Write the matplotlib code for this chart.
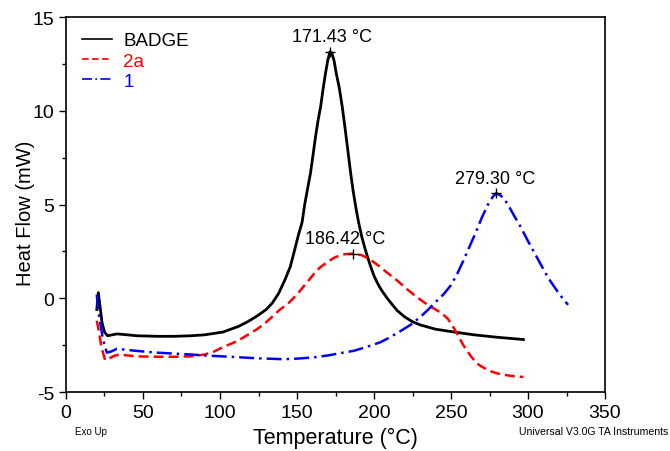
import matplotlib
matplotlib.use("Agg")
import matplotlib.pyplot as plt
from matplotlib.ticker import MultipleLocator

plt.rcParams['font.family'] = ['Liberation Sans', 'DejaVu Sans']
plt.rcParams['axes.unicode_minus'] = False

# DSC curves (temperature in C, heat flow in mW)
t_badge = [20, 21, 23.4, 25, 27, 30, 33, 40, 46, 60, 70, 81, 90, 102, 112, 118, 124, 130, 134,
           138, 142, 145.7, 149, 151, 153.3, 155, 157, 158.8, 160.5, 162, 163.7, 165.3, 167,
           168.5, 170, 171.4, 172.5, 174, 175.5, 177.5, 179.4, 181, 183, 184.8, 186.5, 188.3,
           190, 192, 194, 196, 197.8, 200, 202, 204, 206, 208.6, 211, 215, 220, 225, 230, 240,
           252, 265, 280, 297]
hf_badge = [-0.6, 0.3, -1.3, -1.8, -2.0, -1.95, -1.9, -1.95, -2.0, -2.03, -2.03, -2.0, -1.95,
            -1.8, -1.5, -1.25, -0.95, -0.6, -0.25, 0.25, 0.95, 1.7, 2.75, 3.4, 4.05, 5.0, 5.9,
            6.7, 7.7, 8.6, 9.5, 10.2, 11.2, 12.0, 12.7, 13.15, 13.1, 12.7, 12.0, 11.2, 10.2, 9.2,
            7.9, 6.7, 5.7, 4.8, 4.05, 3.3, 2.7, 2.15, 1.7, 1.2, 0.85, 0.55, 0.3, 0.0, -0.25,
            -0.65, -1.0, -1.25, -1.42, -1.65, -1.8, -1.95, -2.08, -2.2]

t_2a = [20, 21, 23, 25.4, 28, 32, 35, 40, 46, 61, 70, 81, 90, 96, 102, 108, 113, 118, 124, 129,
        133, 139, 144, 150, 155, 161, 165, 170, 175, 181, 186.4, 192, 197, 202, 208, 215, 222,
        228, 234, 239, 244, 248, 252, 255, 258, 263, 266, 269, 275, 282, 290, 297]
hf_2a = [-1.2, -1.6, -2.6, -3.3, -3.2, -3.05, -3.0, -3.05, -3.1, -3.12, -3.12, -3.1, -3.0, -2.85,
         -2.6, -2.4, -2.2, -1.95, -1.65, -1.35, -1.05, -0.6, -0.3, 0.2, 0.7, 1.3, 1.65, 1.95,
         2.2, 2.35, 2.38, 2.3, 2.1, 1.8, 1.4, 0.95, 0.45, 0.05, -0.3, -0.55, -0.8, -1.1, -1.6,
         -2.05, -2.5, -3.1, -3.4, -3.6, -3.88, -4.05, -4.15, -4.2]

t_1 = [20, 21, 24, 26.5, 29, 33, 36, 45, 59, 70, 81, 90, 102, 113, 124, 141, 150, 161, 170, 180,
       187, 195, 204, 210, 217, 224, 230, 235, 240, 245, 250, 254, 258, 262, 266, 270, 274, 277,
       279.3, 282, 285, 288, 291, 295, 300, 304, 309, 313, 318, 322, 326]
hf_1 = [0.2, -0.7, -2.2, -2.9, -2.85, -2.7, -2.72, -2.8, -2.9, -2.95, -3.0, -3.05, -3.1, -3.15,
        -3.2, -3.25, -3.22, -3.15, -3.05, -2.9, -2.8, -2.6, -2.35, -2.1, -1.76, -1.4, -1.0,
        -0.62, -0.2, 0.2, 0.7, 1.3, 2.0, 2.75, 3.5, 4.3, 5.0, 5.4, 5.6, 5.5, 5.25, 4.85, 4.4,
        3.84, 3.05, 2.45, 1.7, 1.1, 0.5, 0.05, -0.35]

peak_t = [171.43, 186.42, 279.30]
peak_hf = [13.15, 2.38, 5.6]
peak_labels = ['171.43 °C', '186.42 °C', '279.30 °C']
label_shift = [(1.5, 0.35), (-5.0, 0.35), (-0.5, 0.35)]

fig = plt.figure(figsize=(6.7, 4.52), dpi=100)
ax = fig.add_axes([0.0985, 0.1305, 0.8045, 0.8295])

ax.plot(t_badge, hf_badge, color='black', lw=2, ls='-', label='BADGE')
ax.plot(t_2a, hf_2a, color='red', lw=1.8, ls=(0, (4, 2)), label='2a')
ax.plot(t_1, hf_1, color='blue', lw=1.8, ls=(0, (6, 2, 1, 2)), label='1')

for x, y, s, (dx, dy) in zip(peak_t, peak_hf, peak_labels, label_shift):
    ax.plot(x, y, marker='+', color='black', ms=7, mew=1)
    ax.text(x + dx, y + dy, s, ha='center', va='bottom', fontsize=13)

ax.set_xlim(0, 350)
ax.set_ylim(-5, 15)
ax.xaxis.set_major_locator(MultipleLocator(50))
ax.xaxis.set_minor_locator(MultipleLocator(25))
ax.yaxis.set_major_locator(MultipleLocator(5))
ax.yaxis.set_minor_locator(MultipleLocator(2.5))
ax.tick_params(which='major', direction='out', length=5, width=1, labelsize=14)
ax.tick_params(which='minor', direction='out', length=3, width=1)
ax.set_ylabel('Heat Flow (mW)', fontsize=14.5)
ax.yaxis.set_label_coords(-0.058, 0.48)
for sp in ax.spines.values():
    sp.set_linewidth(1.2)

leg = ax.legend(loc='upper left', frameon=False, fontsize=13.5, handlelength=1.6,
                handletextpad=0.6, labelspacing=0.17, borderaxespad=0,
                bbox_to_anchor=(0.016, 0.98))
for txt, c in zip(leg.get_texts(), ['black', 'red', 'blue']):
    txt.set_color(c)
for h in leg.get_lines():
    h.set_linewidth(1.2)

fig.text(0.5, 0.03, 'Temperature (°C)', ha='center', va='center', fontsize=15.5)
fig.text(0.112, 0.045, 'Exo Up', ha='left', va='center', fontsize=7)
fig.text(0.997, 0.045, 'Universal V3.0G TA Instruments', ha='right', va='center', fontsize=7.6)

fig.savefig('out.png', dpi=100)
